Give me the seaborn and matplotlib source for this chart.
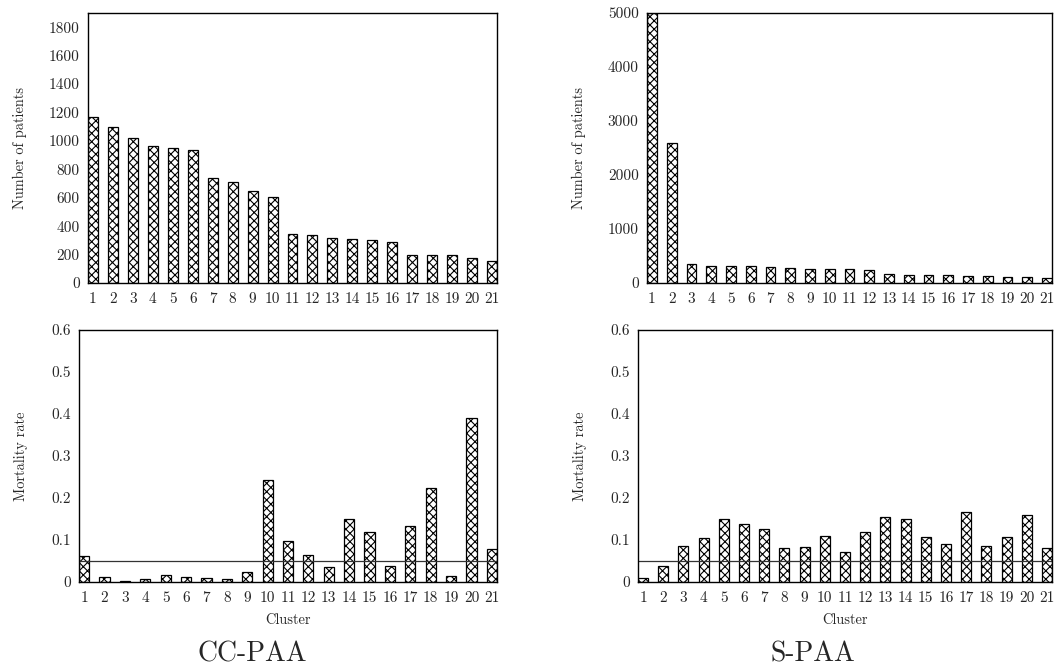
import matplotlib
matplotlib.use("Agg")
import matplotlib.pyplot as plt
import numpy as np
import pandas as pd
import seaborn as sns

# cluster ids
clusters = [str(i) for i in range(1, 22)]

# number of patients per cluster
ccpaa_patients = [1165, 1100, 1018, 962, 952, 935, 740, 710, 647, 605,
                  345, 338, 317, 307, 305, 288, 199, 197, 195, 174, 155]
spaa_patients = [5000, 2590, 353, 322, 320, 309, 303, 285, 266, 262,
                 254, 235, 161, 155, 149, 148, 136, 135, 118, 116, 99]

# mortality rate per cluster
ccpaa_mortality = [0.062, 0.011, 0.003, 0.008, 0.017, 0.013, 0.010, 0.006, 0.024, 0.243,
                   0.098, 0.065, 0.035, 0.150, 0.118, 0.038, 0.134, 0.223, 0.015, 0.390, 0.078]
spaa_mortality = [0.010, 0.038, 0.086, 0.105, 0.150, 0.137, 0.126, 0.081, 0.084, 0.109,
                  0.072, 0.118, 0.154, 0.150, 0.107, 0.090, 0.166, 0.086, 0.108, 0.159, 0.082]

baseline = 0.05
captions = ["CC-PAA", "S-PAA"]

sns.set_style("white")
plt.rcParams['font.family'] = ['cmr10', 'DejaVu Serif']
plt.rcParams['axes.formatter.use_mathtext'] = True
plt.rcParams['hatch.linewidth'] = 0.8
plt.rcParams['axes.unicode_minus'] = False

W, H = 1057, 669
fig = plt.figure(figsize=(W / 100, H / 100), dpi=100)

def box(l, t, r, b):
    return [l / W, 1 - b / H, (r - l) / W, (b - t) / H]

panels = [
    (box(88, 13, 497, 283), ccpaa_patients, 'Number of patients', 1900, np.arange(0, 1801, 200), -0.148, False),
    (box(647, 13, 1052, 283), spaa_patients, 'Number of patients', 5000, np.arange(0, 5001, 1000), -0.150, False),
    (box(79, 330, 497, 582), ccpaa_mortality, 'Mortality rate', 0.6, np.arange(0, 0.61, 0.1), -0.122, True),
    (box(638, 330, 1052, 582), spaa_mortality, 'Mortality rate', 0.6, np.arange(0, 0.61, 0.1), -0.123, True),
]

for rect, vals, ylab, ytop, yticks, labx, bottom in panels:
    ax = fig.add_axes(rect)
    df = pd.DataFrame({'Cluster': clusters, 'val': vals})
    sns.barplot(data=df, x='Cluster', y='val', color='white', edgecolor='black',
                linewidth=0.9, hatch='xxxx', width=0.5, ax=ax, saturation=1)
    ax.set_xlim(-0.25, 20.25)
    ax.set_ylim(0, ytop)
    ax.set_yticks(yticks)
    ax.set_yticklabels(['%g' % round(v, 2) for v in yticks])
    ax.tick_params(length=0, labelsize=11)
    ax.tick_params(axis='y', pad=6)
    ax.tick_params(axis='x', pad=7)
    for s in ax.spines.values():
        s.set_visible(True)
        s.set_color('black')
        s.set_linewidth(1.0)
    ax.set_ylabel(ylab, fontsize=10.4)
    ax.yaxis.set_label_coords(labx, 0.5)
    if bottom:
        ax.axhline(baseline, color='#333333', linewidth=0.9)
        ax.set_xlabel('Cluster', fontsize=10.4, labelpad=6)
    else:
        ax.set_xlabel('')

fig.text(252 / W, 1 - 662 / H, captions[0], ha='center', va='baseline', fontsize=20)
fig.text(813 / W, 1 - 662 / H, captions[1], ha='center', va='baseline', fontsize=20)

fig.savefig('out.png', dpi=100)
